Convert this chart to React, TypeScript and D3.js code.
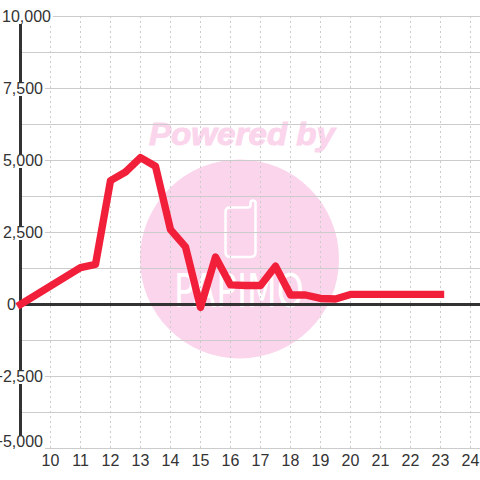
import React from "react";
import * as d3 from "d3";

const xValues = [9, 11, 11.5, 12, 12.5, 13, 13.5, 14, 14.5, 15, 15.5, 16, 16.5, 17, 17.5, 18, 18.5, 19, 19.5, 20, 20.5, 21, 21.5, 22, 22.5, 23];
const yValues = [0, 1280, 1390, 4300, 4600, 5100, 4800, 2600, 2000, -100, 1650, 680, 660, 660, 1330, 330, 330, 210, 190, 350, 350, 350, 350, 350, 350, 350];
const xTicks = [10, 11, 12, 13, 14, 15, 16, 17, 18, 19, 20, 21, 22, 23, 24];
const yMajor = [10000, 7500, 5000, 2500, 0, -2500, -5000];
const yMinor = [8750, 6250, 3750, 1250, -1250, -3750];
const wmText = "Powered by";
const wmName = "PAPIMO";

const x = d3.scaleLinear().domain([9, 24]).range([20.5, 470.5]);
const y = d3.scaleLinear().domain([-5000, 10000]).range([448.5, 16.5]);
const fmt = d3.format(",");
const font = "'Liberation Sans', Arial, sans-serif";
const grid = "#cccccc";

export default function App() {
  const line = d3.line<number>().x((_, i) => x(xValues[i])).y((d) => y(d));
  return (
    <svg width={480} height={480} style={{ position: "fixed", left: 0, top: 0, background: "#fff" }} fontFamily={font}>
      <circle cx={239.5} cy={259} r={99.5} fill="#fbd5ec" />
      <text x={242} y={145} textAnchor="middle" fontSize={32} fontWeight="bold" fontStyle="italic" fill="#fbd5ec" stroke="#fbd5ec" strokeWidth={1} textLength={186} lengthAdjust="spacingAndGlyphs">{wmText}</text>
      <path d="M230 207.5 H248 Q250.5 207.5 250.5 205 V203 Q250.5 200.5 253 200.5 Q255.5 200.5 255.5 203 V252 Q255.5 257 250.5 257 H230.5 Q225.5 257 225.5 252 V212 Q225.5 207.5 230 207.5 Z" fill="none" stroke="#fff" strokeWidth={2.5} />
      <text x={239} y={307} textAnchor="middle" fontSize={46} fill="#fff" fontFamily="'DejaVu Sans', sans-serif" textLength={130} lengthAdjust="spacingAndGlyphs">{wmName}</text>

      {xTicks.map((t) => (
        <line key={t} x1={x(t)} x2={x(t)} y1={16} y2={448} stroke={grid} strokeDasharray="2 3" />
      ))}
      {[...yMinor, ...yMajor.filter((t) => t !== 0)].map((t) => (
        <line key={t} x1={20} x2={480} y1={y(t)} y2={y(t)} stroke={grid} />
      ))}
      <line x1={20.5} x2={20.5} y1={16} y2={449} stroke="#333" strokeWidth={3} />
      <line x1={20} x2={480} y1={y(0)} y2={y(0)} stroke="#333" strokeWidth={3} />

      {yMajor.map((t) => {
        const cy = Math.min(y(t), 441.5);
        const right = t === 10000 ? 51 : t === 0 ? 16 : 43;
        return (
          <g key={t}>
            {t !== 0 && <rect x={0} y={cy - 5.5} width={right + 2} height={13} fill="#fff" />}
            <text x={right} y={cy + 5.5} textAnchor="end" fontSize={16} fill="#333">{fmt(t)}</text>
          </g>
        );
      })}
      {xTicks.map((t) => (
        <text key={t} x={x(t)} y={466} textAnchor="middle" fontSize={16} fill="#333">{t}</text>
      ))}
      <path d={line(yValues) ?? ""} fill="none" stroke="#f21f3a" strokeWidth={7.4} strokeLinejoin="round" strokeLinecap="square" />
    </svg>
  );
}
